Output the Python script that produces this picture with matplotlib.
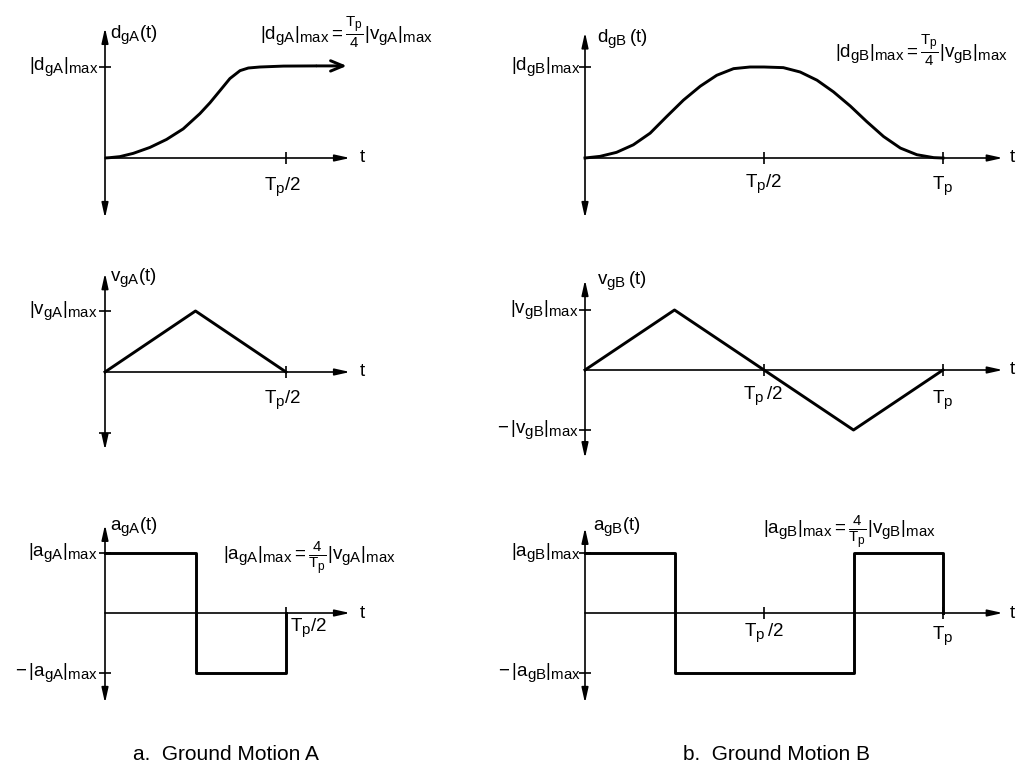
import matplotlib
matplotlib.use("Agg")
import matplotlib.pyplot as plt
import matplotlib._mathtext as mathtext_internal

plt.rcParams["font.family"] = ["Liberation Sans", "DejaVu Sans"]
plt.rcParams["mathtext.fontset"] = "custom"
plt.rcParams["mathtext.rm"] = "Liberation Sans"
plt.rcParams["mathtext.it"] = "Liberation Sans"
plt.rcParams["mathtext.default"] = "regular"
# subscripts in the original drawing are only a little smaller than the body text
mathtext_internal.SHRINK_FACTOR = 0.8

# ---- data (t in units of Tp, amplitudes normalised to their max) ----
dispA_t = [0, 0.014, 0.041, 0.078, 0.124, 0.170, 0.216, 0.262, 0.290, 0.318,
           0.345, 0.373, 0.396, 0.428, 0.493, 0.585, 0.668]
dispA_y = [0, 0.004, 0.015, 0.051, 0.116, 0.204, 0.320, 0.487, 0.607, 0.742,
           0.873, 0.960, 0.989, 1.0, 1.01, 1.012, 1.012]

dispB_t = [0, 0.042, 0.088, 0.135, 0.182, 0.228, 0.275, 0.322, 0.368, 0.415,
           0.461, 0.5, 0.554, 0.601, 0.648, 0.694, 0.741, 0.787, 0.834, 0.881,
           0.927, 0.974, 1.0]
dispB_y = [0, 0.018, 0.062, 0.145, 0.273, 0.455, 0.636, 0.789, 0.909, 0.982,
           1.0, 1.0, 0.993, 0.945, 0.855, 0.727, 0.571, 0.40, 0.236, 0.109,
           0.036, 0.004, 0]

velA_t = [0, 0.25, 0.5]
velA_y = [0, 1, 0]
velB_t = [0, 0.25, 0.5, 0.75, 1.0]
velB_y = [0, 1, 0, -1, 0]

accA_t = [0, 0.25, 0.25, 0.5, 0.5]
accA_y = [1, 1, -1, -1, 0]
accB_t = [0, 0.25, 0.25, 0.75, 0.75, 1.0, 1.0]
accB_y = [1, 1, -1, -1, 1, 1, 0]

W, H = 1028, 767
fig = plt.figure(figsize=(W / 100, H / 100), dpi=100)

AXLW = 1.2
CLW = 2.1
FS = 13.5
ARR = dict(color="k", lw=AXLW, shrinkA=0, shrinkB=0, mutation_scale=10)


def panel(ox, oy, sx, sy, xr, yr):
    left = ox + xr[0] * sx
    right = ox + xr[1] * sx
    top = oy - yr[1] * sy
    bot = oy - yr[0] * sy
    ax = fig.add_axes([left / W, 1 - bot / H, (right - left) / W, (bot - top) / H])
    ax.set_xlim(*xr)
    ax.set_ylim(*yr)
    ax.axis("off")
    ax.patch.set_alpha(0)
    return ax


def axes_arrows(ax, xend, ylo, yhi, xticks, yticks):
    ax.annotate("", xy=(xend, 0), xytext=(0, 0),
                arrowprops=dict(arrowstyle="-|>,head_length=0.9,head_width=0.2", **ARR))
    ax.annotate("", xy=(0, yhi), xytext=(0, ylo),
                arrowprops=dict(arrowstyle="<|-|>,head_length=0.9,head_width=0.2", **ARR))
    ax.plot(xticks, [0] * len(xticks), ls="none", marker="|", ms=9, mew=AXLW, color="k")
    ax.plot([0] * len(yticks), yticks, ls="none", marker="_", ms=9, mew=AXLW, color="k")


def lab(ax, x, y, s, dx, dy, ha="center", va="center", fs=FS):
    ax.annotate(s, xy=(x, y), xytext=(dx, dy), textcoords="offset pixels",
                ha=ha, va=va, fontsize=fs, annotation_clip=False)


# ---------------- Ground motion A ----------------
SXA = 362
ax = panel(105, 158, SXA, 91, (-0.3, 0.75), (-0.75, 1.6))
axes_arrows(ax, 0.677, -0.66, 1.43, [0.5], [1])
ax.plot(dispA_t[:-1], dispA_y[:-1], color="k", lw=CLW, solid_capstyle="butt",
        solid_joinstyle="round")
ax.annotate("", xy=(dispA_t[-1], dispA_y[-1]), xytext=(dispA_t[-2], dispA_y[-2]),
            arrowprops=dict(arrowstyle="->,head_length=0.6,head_width=0.25",
                            color="k", lw=CLW, shrinkA=0, shrinkB=0, mutation_scale=15))
lab(ax, 0, 1.43, r"$d_{gA}(t)$", 5, -7, ha="left")
lab(ax, 0, 1, r"$|d_{gA}|_{max}$", -6, 0, ha="right")
lab(ax, 0.677, 0, "t", 12, 0)
lab(ax, 0.5, 0, r"$T_p/2$", -3, -29)
lab(ax, 0, 0, r"$|d_{gA}|_{max} = \frac{T_p}{4}|v_{gA}|_{max}$", 155, 126, ha="left")

ax = panel(105, 372, SXA, 61, (-0.3, 0.75), (-1.4, 1.75))
axes_arrows(ax, 0.677, -1.28, 1.62, [0.5], [1, -1])
ax.plot(velA_t, velA_y, color="k", lw=CLW)
lab(ax, 0, 0, r"$v_{gA}(t)$", 5, 94, ha="left")
lab(ax, 0, 1, r"$|v_{gA}|_{max}$", -7, 0, ha="right")
lab(ax, 0.677, 0, "t", 12, 0)
lab(ax, 0.5, 0, r"$T_p/2$", -3, -28)

ax = panel(105, 613, SXA, 60, (-0.3, 0.75), (-1.6, 1.6))
axes_arrows(ax, 0.677, -1.5, 1.47, [0.5], [1, -1])
ax.plot(accA_t, accA_y, color="k", lw=CLW)
lab(ax, 0, 0, r"$a_{gA}(t)$", 5, 86, ha="left")
lab(ax, 0, 1, r"$|a_{gA}|_{max}$", -7, 0, ha="right")
lab(ax, 0, -1, r"$-\,|a_{gA}|_{max}$", -7, 0, ha="right")
lab(ax, 0.677, 0, "t", 12, 0)
lab(ax, 0.5, 0, r"$T_p/2$", 4, -15, ha="left")
lab(ax, 0, 0, r"$|a_{gA}|_{max} = \frac{4}{T_p}|v_{gA}|_{max}$", 118, 55, ha="left")

# ---------------- Ground motion B ----------------
SXB = 358
ax = panel(585, 158, SXB, 91, (-0.3, 1.25), (-0.75, 1.6))
axes_arrows(ax, 1.167, -0.66, 1.38, [0.5, 1.0], [1])
ax.plot(dispB_t, dispB_y, color="k", lw=CLW, solid_joinstyle="round")
lab(ax, 0, 1.38, r"$d_{gB}\,(t)$", 12, -6, ha="left")
lab(ax, 0, 1, r"$|d_{gB}|_{max}$", -4, 0, ha="right")
lab(ax, 1.167, 0, "t", 10, 0)
lab(ax, 0.5, 0, r"$T_p/2$", 0, -26)
lab(ax, 1.0, 0, r"$T_p$", 0, -28)
lab(ax, 0, 0, r"$|d_{gB}|_{max} = \frac{T_p}{4}|v_{gB}|_{max}$", 423, 108, ha="right")

ax = panel(585, 370, SXB, 60, (-0.3, 1.25), (-1.6, 1.7))
axes_arrows(ax, 1.167, -1.47, 1.5, [0.5, 1.0], [1, -1])
ax.plot(velB_t, velB_y, color="k", lw=CLW)
lab(ax, 0, 0, r"$v_{gB}\,(t)$", 12, 89, ha="left")
lab(ax, 0, 1, r"$|v_{gB}|_{max}$", -6, 0, ha="right")
lab(ax, 0, -1, r"$-\,|v_{gB}|_{max}$", -6, 0, ha="right")
lab(ax, 1.167, 0, "t", 10, 0)
lab(ax, 0.5, 0, r"$T_p\,/2$", -1, -26)
lab(ax, 1.0, 0, r"$T_p$", 0, -30)

ax = panel(585, 613, SXB, 60, (-0.3, 1.25), (-1.6, 1.6))
axes_arrows(ax, 1.167, -1.5, 1.42, [0.5, 1.0], [1, -1])
ax.plot(accB_t, accB_y, color="k", lw=CLW)
lab(ax, 0, 0, r"$a_{gB}(t)$", 8, 86, ha="left")
lab(ax, 0, 1, r"$|a_{gB}|_{max}$", -4, 0, ha="right")
lab(ax, 0, -1, r"$-\,|a_{gB}|_{max}$", -4, 0, ha="right")
lab(ax, 1.167, 0, "t", 10, 0)
lab(ax, 0.5, 0, r"$T_p\,/2$", 0, -20)
lab(ax, 1.0, 0, r"$T_p$", 0, -23)
lab(ax, 0, 0, r"$|a_{gB}|_{max} = \frac{4}{T_p}|v_{gB}|_{max}$", 178, 81, ha="left")

fig.text(133 / W, 1 - 755 / H, "a.  Ground Motion A", fontsize=15, ha="left", va="center")
fig.text(683 / W, 1 - 755 / H, "b.  Ground Motion B", fontsize=15, ha="left", va="center")

fig.savefig("out.png", dpi=100, facecolor="white")
